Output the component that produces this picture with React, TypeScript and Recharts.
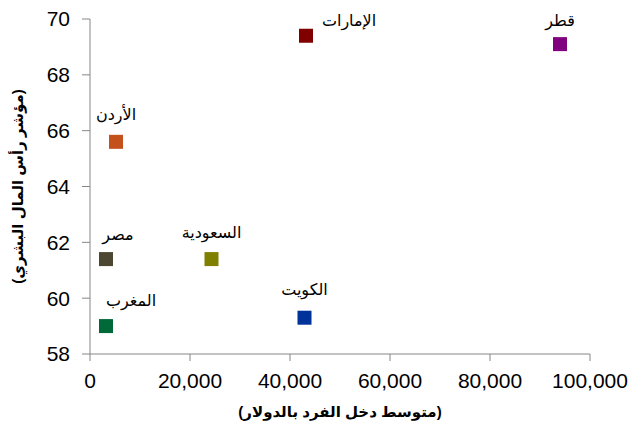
import React from 'react';
import { ScatterChart, Scatter, XAxis, YAxis } from 'recharts';

const countries = ['قطر', 'الإمارات', 'الأردن', 'مصر', 'السعودية', 'المغرب', 'الكويت'];
const incomes = [94000, 43200, 5200, 3200, 24300, 3200, 42900];
const hciValues = [69.1, 69.4, 65.6, 61.4, 61.4, 59.0, 59.3];
const pointColors = ['#800080', '#800000', '#C4511C', '#4D4631', '#808000', '#00693A', '#003399'];
const xTicks = [0, 20000, 40000, 60000, 80000, 100000];
const yTicks = [58, 60, 62, 64, 66, 68, 70];
const xTitle = '(متوسط دخل الفرد بالدولار)';
const yTitle = '(مؤشر رأس المال البشري)';

// label offsets (styling) relative to marker centre
const labelDx = [0, 43, 0, 12, 0, 25, 0];
const labelDy = [-24, -15, -27, -25, -27, -26, -28];

const FONT = "Arial, 'Liberation Sans', 'DejaVu Sans', sans-serif";
const AXIS = '#868686';

const data = countries.map((name, i) => ({ name, x: incomes[i], y: hciValues[i], idx: i }));

const fmt = (v: number) => v.toLocaleString('en-US');

const Marker = (props: any) => {
  const { cx, cy, payload } = props;
  const i = payload.idx;
  return (
    <g>
      <rect x={cx - 7} y={cy - 7} width={14} height={14} fill={pointColors[i]} />
      <text
        x={cx + labelDx[i]}
        y={cy + labelDy[i]}
        textAnchor="middle"
        dominantBaseline="central"
        fontSize={16}
        fontFamily={FONT}
        fill="#000"
      >
        {payload.name}
      </text>
    </g>
  );
};

const XTitle = (props: any) => {
  const { viewBox } = props;
  return (
    <text
      x={viewBox.x + viewBox.width / 2}
      y={411}
      textAnchor="middle"
      dominantBaseline="central"
      fontSize={15}
      fontWeight="bold"
      fontFamily={FONT}
      fill="#000"
    >
      {xTitle}
    </text>
  );
};

const YTitle = (props: any) => {
  const { viewBox } = props;
  const cy = viewBox.y + viewBox.height / 2;
  return (
    <text
      x={17}
      y={cy}
      transform={`rotate(-90, 17, ${cy})`}
      textAnchor="middle"
      dominantBaseline="central"
      fontSize={15}
      fontWeight="bold"
      fontFamily={FONT}
      fill="#000"
    >
      {yTitle}
    </text>
  );
};

export default function App() {
  return (
    <div style={{ position: 'absolute', left: 0, top: 0, width: 633, height: 425, background: '#fff' }}>
      <ScatterChart width={633} height={425} margin={{ top: 19, right: 43, bottom: 0, left: 0 }}>
        <XAxis
          type="number"
          dataKey="x"
          domain={[0, 100000]}
          ticks={xTicks}
          tickFormatter={fmt}
          height={71}
          stroke={AXIS}
          tickSize={7}
          tickMargin={12}
          tick={{ fill: '#000', fontSize: 21, fontFamily: FONT }}
          interval={0}
          label={<XTitle />}
        />
        <YAxis
          type="number"
          dataKey="y"
          domain={[58, 70]}
          ticks={yTicks}
          width={90}
          stroke={AXIS}
          tickSize={8}
          tickMargin={12}
          tick={{ fill: '#000', fontSize: 21, fontFamily: FONT }}
          interval={0}
          label={<YTitle />}
        />
        <Scatter data={data} shape={<Marker />} isAnimationActive={false} />
      </ScatterChart>
    </div>
  );
}
